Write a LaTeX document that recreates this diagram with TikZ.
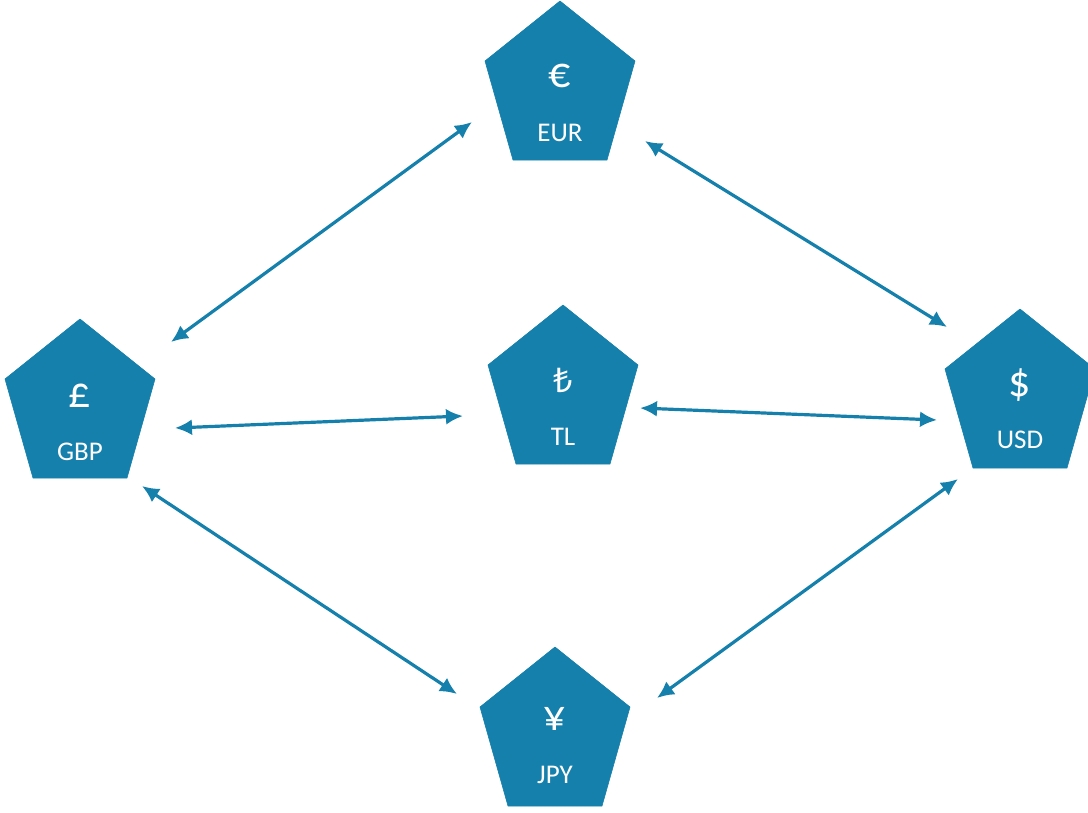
\documentclass[tikz,border=0pt]{standalone}
\usepackage{fontspec}
\setmainfont{Carlito}
\newfontfamily\symfont{Noto Sans}
\definecolor{pent}{RGB}{21,128,172}
\usetikzlibrary{arrows.meta}
\tikzset{
  pentfill/.style={fill=pent, draw=pent, line width=0.6pt, line join=round},
  symtext/.style={text=white, font=\fontsize{44}{46}\selectfont, inner sep=0pt},
  labtext/.style={text=white, font=\fontsize{27}{29}\selectfont, inner sep=0pt},
  link/.style={draw=pent, line width=3.2pt, {Latex[length=17pt,width=16pt]}-{Latex[length=17pt,width=16pt]}}
}
\begin{document}
\begin{tikzpicture}[x=1pt,y=-1pt]
\useasboundingbox (0,0) rectangle (1088,812);
\begin{scope}
\clip (0,0) rectangle (1088,812);
% pentagons: apex (cx,ty)
\foreach \cx/\ty/\nm in {560/1/eur, 80/319/gbp, 563/305/tl, 1020/309/usd, 555/647/jpy}{
  \path[pentfill] (\cx,\ty) -- ++(75,60) -- ++(-28,99) -- ++(-94,0) -- ++(-28,-99) -- cycle;
}
\end{scope}
% texts
\node[symtext] (eurs) at (560,76) {€};
\node[labtext] (eur) at (560,133) {EUR};
\node[symtext] (gbps) at (80,396) {£};
\node[labtext] (gbp) at (80,452) {GBP};
\node[symtext] (tls) at (563,380) {\symfont\fontsize{34}{36}\selectfont ₺};
\node[labtext] (tl) at (563,437) {TL};
\node[symtext] (usds) at (1020,385) {\$};
\node[labtext] (usd) at (1020,440) {USD};
\node[symtext] (jpys) at (555,719) {¥};
\node[labtext] (jpy) at (555,775) {JPY};
% connector ends
\coordinate (eurL) at (472,122);
\coordinate (gbpT) at (171,342);
\coordinate (eurR) at (645,141);
\coordinate (usdT) at (947,327);
\coordinate (gbpR) at (175,428);
\coordinate (tlL) at (463,416);
\coordinate (tlR) at (640,408);
\coordinate (usdL) at (937,420);
\coordinate (gbpB) at (142,486);
\coordinate (jpyL) at (457,694);
\coordinate (usdB) at (958,479);
\coordinate (jpyR) at (657,698);
\draw[link] (eurL) -- (gbpT);
\draw[link] (eurR) -- (usdT);
\draw[link] (gbpR) -- (tlL);
\draw[link] (tlR) -- (usdL);
\draw[link] (gbpB) -- (jpyL);
\draw[link] (usdB) -- (jpyR);
\end{tikzpicture}
\end{document}
